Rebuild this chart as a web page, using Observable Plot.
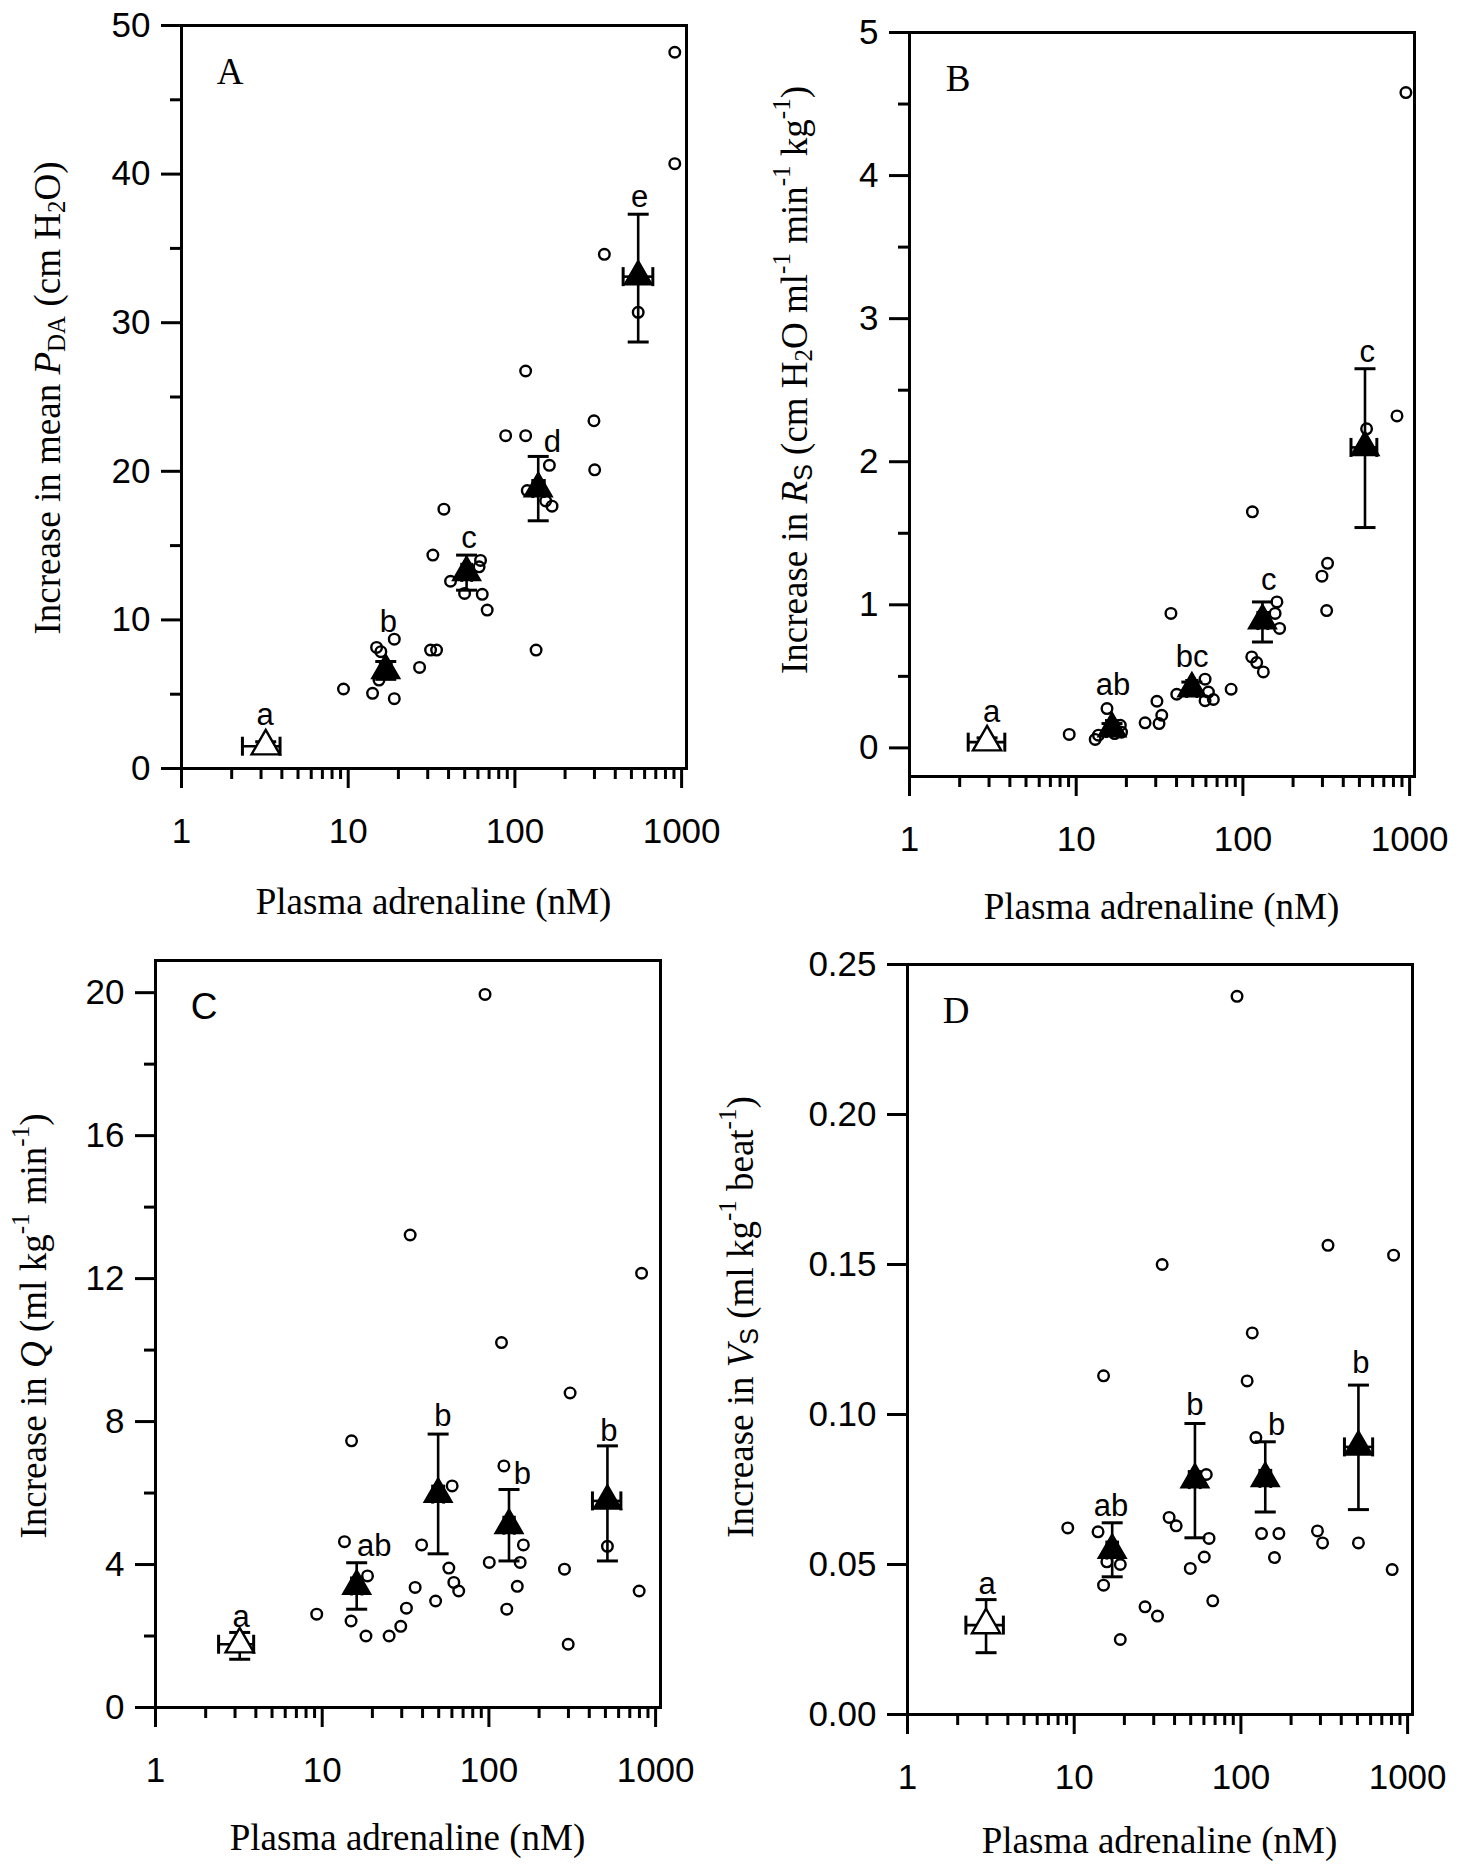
<!DOCTYPE html>
<html><head><meta charset="utf-8">
<script src="https://cdn.jsdelivr.net/npm/d3@7"></script>
<script src="https://cdn.jsdelivr.net/npm/@observablehq/plot@0.6"></script>
<style>
body{margin:0;background:#fff;}
#fig{position:relative;width:1466px;height:1864px;background:#fff;overflow:hidden;}
#fig svg{position:absolute;}
</style></head><body><div id="fig"></div>
<script>
// ---------- shared axis ticks ----------
const xMajor = [1, 10, 100, 1000];
const xMinor = [2,3,4,5,6,7,8,9,20,30,40,50,60,70,80,90,200,300,400,500,600,700,800,900];
const xTitle = "Plasma adrenaline (nM)";

// ---------- Panel A ----------
const aPtX = [910, 910, 344, 549, 116, 298, 88, 116, 161, 301, 118.6, 153, 167, 134, 37.5, 32.2, 62.2, 61, 41.1, 49.9, 63.7, 68.2, 18.9, 14.8, 15.7, 31.2, 33.9, 26.8, 15.3, 9.37, 14.0, 18.9];
const aPtY = [48.2, 40.7, 34.6, 30.7, 26.75, 23.4, 22.4, 22.4, 20.4, 20.1, 18.7, 18.0, 17.65, 7.97, 17.45, 14.36, 14.0, 13.57, 12.6, 11.78, 11.72, 10.66, 8.7, 8.15, 7.86, 7.97, 7.97, 6.8, 5.95, 5.35, 5.06, 4.7];
const aMeanX = [3.2, 16.8, 51.3, 138, 549];
const aMeanY = [1.5, 6.6, 13.2, 18.84, 33.1];
const aMeanLo = [1.2, 6.0, 12.0, 16.67, 28.7];
const aMeanHi = [1.8, 7.2, 14.36, 21.0, 37.3];
const aMeanXLo = [2.32, 15.6, 48, 128, 446];
const aMeanXHi = [3.9, 18.1, 55, 150, 672];
const aLetters = ["a", "b", "c", "d", "e"];
const aLetterX = [3.17, 17.4, 53, 168, 560];
const aLetterY = [3.6, 9.87, 15.48, 21.98, 38.45];
const aYTicks = [0, 10, 20, 30, 40, 50];
const aYMinor = [5, 15, 25, 35, 45];

// ---------- Panel B ----------
const bPtX = [950, 840, 552, 114, 322, 298, 318, 160, 156, 166, 113, 121, 132.6, 37, 85, 59.3, 40.1, 62.1, 66.5, 59.3, 30.5, 32.6, 25.9, 31.4, 15.3, 18.4, 18.7, 13.6, 13.0, 9.08, 17];
const bPtY = [4.58, 2.32, 2.23, 1.65, 1.29, 1.20, 0.96, 1.02, 0.94, 0.835, 0.636, 0.596, 0.531, 0.94, 0.41, 0.48, 0.375, 0.39, 0.338, 0.33, 0.326, 0.228, 0.175, 0.17, 0.275, 0.158, 0.11, 0.089, 0.059, 0.094, 0.10];
const bMeanX = [2.92, 16.4, 49.4, 131, 540];
const bMeanY = [0.04, 0.135, 0.415, 0.89, 2.10];
const bMeanLo = [0.01, 0.10, 0.37, 0.74, 1.54];
const bMeanHi = [0.07, 0.17, 0.46, 1.02, 2.65];
const bMeanXLo = [2.25, 15.2, 46, 123, 445];
const bMeanXHi = [3.73, 17.7, 53, 141, 636];
const bLetters = ["a", "ab", "bc", "c", "c"];
const bLetterX = [3.11, 16.6, 49.6, 143, 558];
const bLetterY = [0.251, 0.437, 0.636, 1.171, 2.765];
const bYTicks = [0, 1, 2, 3, 4, 5];
const bYMinor = [0.5, 1.5, 2.5, 3.5, 4.5];

// ---------- Panel C ----------
const cPtX = [94.8, 33.7, 824, 119, 307, 15.0, 60.2, 123, 161, 100.5, 154, 148, 128, 514, 284, 299, 797, 13.6, 18.7, 14.9, 18.3, 25.2, 29.6, 32.0, 36.1, 39.5, 47.9, 57.5, 61.6, 65.9, 9.27];
const cPtY = [19.95, 13.22, 12.15, 10.21, 8.8, 7.46, 6.2, 6.76, 4.55, 4.06, 4.06, 3.39, 2.75, 4.51, 3.87, 1.77, 3.26, 4.64, 3.68, 2.42, 2.0, 2.0, 2.27, 2.78, 3.36, 4.55, 2.98, 3.9, 3.5, 3.26, 2.61];
const cMeanX = [3.2, 16.1, 49.6, 132, 514];
const cMeanY = [1.77, 3.40, 5.97, 5.1, 5.78];
const cMeanLo = [1.35, 2.75, 4.3, 4.1, 4.1];
const cMeanHi = [2.1, 4.05, 7.65, 6.1, 7.32];
const cMeanXLo = [2.39, 15.0, 46, 123, 418];
const cMeanXHi = [3.88, 17.3, 53.5, 142, 619];
const cLetters = ["a", "ab", "b", "b", "b"];
const cLetterX = [3.26, 20.5, 53, 159, 524];
const cLetterY = [2.52, 4.52, 8.16, 6.53, 7.74];
const cYTicks = [0, 4, 8, 12, 16, 20];
const cYMinor = [2, 6, 10, 14, 18];

// ---------- Panel D ----------
const dPtX = [94.8, 33.7, 333, 824, 117, 15.0, 109, 62, 123, 507, 288, 309, 808, 133, 169, 159, 37.1, 40.9, 64.4, 60.3, 49.7, 67.8, 26.6, 31.6, 13.9, 15.0, 15.7, 18.9, 18.9, 9.15];
const dPtY = [0.2394, 0.150, 0.1564, 0.1531, 0.1272, 0.1129, 0.1112, 0.080, 0.0923, 0.0572, 0.0612, 0.0572, 0.0483, 0.0603, 0.0603, 0.0523, 0.0657, 0.0629, 0.0587, 0.0525, 0.0487, 0.0379, 0.0359, 0.0328, 0.0609, 0.0431, 0.0509, 0.050, 0.025, 0.0622];
const dMeanX = [2.96, 16.9, 53, 140, 507];
const dMeanY = [0.0298, 0.0548, 0.0783, 0.0787, 0.0892];
const dMeanLo = [0.0206, 0.0459, 0.0589, 0.0675, 0.0683];
const dMeanHi = [0.0383, 0.0639, 0.097, 0.0909, 0.1098];
const dMeanXLo = [2.24, 15.7, 49, 130, 418];
const dMeanXHi = [3.76, 18.2, 57, 151, 617];
const dLetters = ["a", "ab", "b", "b", "b"];
const dLetterX = [3.0, 16.6, 53, 164, 525];
const dLetterY = [0.0434, 0.0694, 0.1031, 0.0964, 0.117];
const dYTicks = [0, 0.05, 0.10, 0.15, 0.20, 0.25];
const dYMinor = [];

// ---------- drawing ----------
const SANS = "'Liberation Sans', Arial, sans-serif";
const SERIF = "'Liberation Serif', 'Times New Roman', serif";
const hcap = {draw(ctx, size) { const r = Math.sqrt(size / Math.PI); ctx.moveTo(-r, 0); ctx.lineTo(r, 0); }};
const vcap = {draw(ctx, size) { const r = Math.sqrt(size / Math.PI); ctx.moveTo(0, -r); ctx.lineTo(0, r); }};

const panels = [
  {id: "A", left: 0, top: 0, mL: 181, mR: 47, mT: 25, mB: 164, yDomain: [0, 50],
   px: aPtX, py: aPtY, mx: aMeanX, my: aMeanY, mlo: aMeanLo, mhi: aMeanHi, mxlo: aMeanXLo, mxhi: aMeanXHi,
   lt: aLetters, lx: aLetterX, ly: aLetterY, yt: aYTicks, ym: aYMinor, fmt: d => String(d),
   titlePos: [47, 398], xTitleY: 901, letterFont: SERIF,
   title: ["Increase in mean ", {t: "P", i: 1}, {t: "DA", sub: 1}, " (cm H", {t: "2", sub: 1}, "O)"]},
  {id: "B", left: 733, top: 0, mL: 176, mR: 52, mT: 32, mB: 156, yDomain: [-0.2, 5],
   px: bPtX, py: bPtY, mx: bMeanX, my: bMeanY, mlo: bMeanLo, mhi: bMeanHi, mxlo: bMeanXLo, mxhi: bMeanXHi,
   lt: bLetters, lx: bLetterX, ly: bLetterY, yt: bYTicks, ym: bYMinor, fmt: d => String(d),
   titlePos: [61, 380], xTitleY: 906, letterFont: SERIF,
   title: ["Increase in ", {t: "R", i: 1}, {t: "S", sub: 1, sans: 1}, " (cm H", {t: "2", sub: 1}, "O ml", {t: "-1", sup: 1}, " min", {t: "-1", sup: 1}, " kg", {t: "-1", sup: 1}, ")"]},
  {id: "C", left: 0, top: 932, mL: 155, mR: 73, mT: 28, mB: 157, yDomain: [0, 20.9],
   px: cPtX, py: cPtY, mx: cMeanX, my: cMeanY, mlo: cMeanLo, mhi: cMeanHi, mxlo: cMeanXLo, mxhi: cMeanXHi,
   lt: cLetters, lx: cLetterX, ly: cLetterY, yt: cYTicks, ym: cYMinor, fmt: d => String(d),
   titlePos: [33, 394], xTitleY: 905, letterFont: SANS,
   title: ["Increase in ", {t: "Q", i: 1}, " (ml kg", {t: "-1", sup: 1}, " min", {t: "-1", sup: 1}, ")"]},
  {id: "D", left: 733, top: 932, mL: 174, mR: 54, mT: 32, mB: 150, yDomain: [0, 0.25],
   px: dPtX, py: dPtY, mx: dMeanX, my: dMeanY, mlo: dMeanLo, mhi: dMeanHi, mxlo: dMeanXLo, mxhi: dMeanXHi,
   lt: dLetters, lx: dLetterX, ly: dLetterY, yt: dYTicks, ym: dYMinor, fmt: d3.format(".2f"),
   titlePos: [7, 385], xTitleY: 908, letterFont: SERIF,
   title: ["Increase in ", {t: "V", i: 1}, {t: "S", sub: 1, sans: 1}, " (ml kg", {t: "-1", sup: 1}, " beat", {t: "-1", sup: 1}, ")"]}
];

const fig = document.getElementById("fig");
const W = 733, H = 932;

for (const cfg of panels) {
  const pts = cfg.px.map((x, i) => ({x, y: cfg.py[i]}));
  const means = cfg.mx.map((x, i) => ({x, y: cfg.my[i], lo: cfg.mlo[i], hi: cfg.mhi[i], xlo: cfg.mxlo[i], xhi: cfg.mxhi[i], open: i === 0}));
  const letters = cfg.lt.map((t, i) => ({t, x: cfg.lx[i], y: cfg.ly[i]}));
  const marks = [
    Plot.frame({stroke: "black", strokeWidth: 3}),
    Plot.axisX(xMajor, {tickSize: 20, tickPadding: 30, tickFormat: d => String(d), fontSize: 35, strokeWidth: 3, label: null}),
    Plot.axisX(xMinor, {tickSize: 11, tickFormat: () => "", strokeWidth: 3, label: null}),
    Plot.axisY(cfg.yt, {tickSize: 20, tickPadding: 11, tickFormat: cfg.fmt, fontSize: 35, strokeWidth: 3, label: null})
  ];
  if (cfg.ym.length) marks.push(Plot.axisY(cfg.ym, {tickSize: 11, tickFormat: () => "", strokeWidth: 3, label: null}));
  marks.push(
    Plot.ruleX(means, {x: "x", y1: "lo", y2: "hi", stroke: "black", strokeWidth: 2.6}),
    Plot.dot(means, {x: "x", y: "hi", symbol: hcap, r: 10.5, fill: "none", stroke: "black", strokeWidth: 3}),
    Plot.dot(means, {x: "x", y: "lo", symbol: hcap, r: 10.5, fill: "none", stroke: "black", strokeWidth: 3}),
    Plot.ruleY(means, {y: "y", x1: "xlo", x2: "xhi", stroke: "black", strokeWidth: 2.6}),
    Plot.dot(means, {x: "xlo", y: "y", symbol: vcap, r: 9.5, fill: "none", stroke: "black", strokeWidth: 3}),
    Plot.dot(means, {x: "xhi", y: "y", symbol: vcap, r: 9.5, fill: "none", stroke: "black", strokeWidth: 3}),
    Plot.dot(pts, {x: "x", y: "y", r: 5.3, fill: "none", stroke: "black", strokeWidth: 2.4}),
    Plot.dot(means.filter(d => d.open), {x: "x", y: "y", symbol: "triangle", r: 10.5, fill: "white", stroke: "black", strokeWidth: 2.4}),
    Plot.dot(means.filter(d => !d.open), {x: "x", y: "y", symbol: "triangle", r: 10.5, fill: "black", stroke: "black", strokeWidth: 1.5}),
    Plot.text(letters, {x: "x", y: "y", text: "t", fontSize: 31, fontFamily: SANS, fill: "black", lineAnchor: "middle"})
  );
  const svgEl = Plot.plot({
    width: W, height: H,
    marginLeft: cfg.mL, marginRight: cfg.mR, marginTop: cfg.mT, marginBottom: cfg.mB,
    x: {type: "log", domain: [1, 1070]},
    y: {domain: cfg.yDomain},
    style: "font-family: " + SANS + "; font-size: 35px; color: black; background: white; overflow: visible;",
    marks
  });
  svgEl.style.left = cfg.left + "px";
  svgEl.style.top = cfg.top + "px";
  svgEl.style.overflow = "visible";
  fig.appendChild(svgEl);
  const svg = d3.select(svgEl);

  // x-axis title
  svg.append("text")
    .attr("x", (cfg.mL + W - cfg.mR) / 2).attr("y", cfg.xTitleY)
    .attr("text-anchor", "middle").attr("dominant-baseline", "central")
    .attr("font-family", SERIF).attr("font-size", 37).attr("fill", "black")
    .text(xTitle);

  // y-axis title (rotated, with italic/sub/superscripts)
  const fs = 37, small = 25;
  const yt = svg.append("text")
    .attr("transform", `translate(${cfg.titlePos[0]},${cfg.titlePos[1]}) rotate(-90)`)
    .attr("text-anchor", "middle").attr("dominant-baseline", "central")
    .attr("font-family", SERIF).attr("font-size", fs).attr("fill", "black");
  let shift = 0;
  for (const p of cfg.title) {
    const part = typeof p === "string" ? {t: p} : p;
    const target = part.sub ? 9 : part.sup ? -13 : 0;
    const ts = yt.append("tspan").text(part.t).attr("dy", target - shift);
    shift = target;
    if (part.i) ts.attr("font-style", "italic");
    if (part.sub || part.sup) ts.attr("font-size", small);
    if (part.sans) ts.attr("font-family", SANS);
  }

  // panel letter
  svg.append("text")
    .attr("x", cfg.mL + 49).attr("y", cfg.mT + 46)
    .attr("text-anchor", "middle").attr("dominant-baseline", "central")
    .attr("font-family", cfg.letterFont).attr("font-size", 37).attr("fill", "black")
    .text(cfg.id);
}
</script></body></html>
